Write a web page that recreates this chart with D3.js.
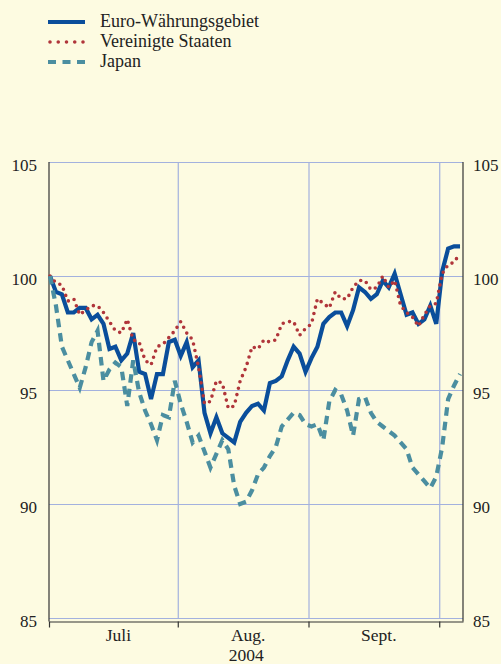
<!DOCTYPE html>
<html>
<head>
<meta charset="utf-8">
<script src="https://cdn.jsdelivr.net/npm/d3@7"></script>
<style>
	body { margin: 0; background: #fdfbe1; }
	.grid line { stroke: #a3b1de; stroke-width: 1.2; }
	.grid path { display: none; }
	.ticklab path, .ticklab line { display: none; }
	.x-axis path, .x-axis line { stroke: #333; stroke-width: 1.2; }
</style>
</head>
<body>
<div id="chart"></div>
<script>
// business days 1 Jul - 6 Oct 2004, index 0..69
var euro = [100.0, 99.3, 99.2, 98.4, 98.4, 98.6, 98.6, 98.1, 98.3, 97.9,
	96.8, 96.9, 96.3, 96.6, 97.5, 95.8, 95.7, 94.6, 95.7, 95.7,
	97.1, 97.2, 96.5, 97.1, 96.0, 96.3, 94.0, 93.1, 93.8, 93.1,
	92.9, 92.7, 93.6, 94.0, 94.3, 94.4, 94.1, 95.3, 95.4, 95.6,
	96.3, 96.9, 96.6, 95.8, 96.4, 96.9, 97.9, 98.2, 98.4, 98.4,
	97.8, 98.5, 99.5, 99.3, 99.0, 99.2, 99.8, 99.5, 100.1, 99.2,
	98.3, 98.4, 97.9, 98.1, 98.7, 97.9, 100.2, 101.2, 101.3, 101.3]
var usa = [100.0, 99.7, 99.6, 98.9, 99.0, 98.3, 98.5, 98.7, 98.7, 98.4,
	98.0, 97.6, 97.5, 98.1, 97.2, 97.1, 96.3, 96.1, 96.9, 97.0,
	97.3, 97.6, 98.0, 97.5, 97.2, 96.0, 94.4, 94.5, 95.4, 95.3,
	94.2, 94.3, 95.4, 96.0, 96.9, 96.8, 97.2, 97.1, 97.2, 97.9,
	98.0, 98.0, 97.4, 97.7, 97.9, 99.0, 98.8, 98.6, 99.3, 99.0,
	99.0, 99.5, 99.8, 99.8, 99.4, 99.5, 100.0, 99.5, 99.8, 98.7,
	98.4, 98.2, 97.8, 98.3, 98.7, 98.8, 100.1, 100.5, 100.6, 101.0]
var japan = [100.0, 98.7, 96.9, 96.3, 95.7, 95.1, 96.0, 97.1, 97.6, 95.4,
	95.9, 96.2, 96.0, 94.3, 96.3, 94.9, 94.1, 93.5, 92.8, 93.9,
	93.8, 95.4, 94.4, 93.6, 92.7, 93.0, 92.3, 91.6, 92.2, 92.8,
	92.4, 90.8, 90.0, 90.1, 90.6, 91.3, 91.6, 92.1, 92.5, 93.4,
	93.7, 94.0, 93.9, 93.5, 93.4, 93.5, 92.8, 94.5, 95.0, 94.8,
	94.1, 93.0, 94.6, 94.7, 94.0, 93.6, 93.4, 93.2, 93.0, 92.7,
	92.4, 91.6, 91.3, 91.0, 90.7, 91.2, 92.5, 94.6, 95.2, 95.7]
var yTicks = [85, 90, 95, 100, 105]
var monthBreaks = [21.5, 43.5, 65.5]
var months = ["Juli", "Aug.", "Sept."]
var yearLabel = "2004"
var seriesNames = ["Euro-Währungsgebiet", "Vereinigte Staaten", "Japan"]

var width = 501, height = 664
var plot = {left: 49, right: 463, top: 162, bottom: 618}
var serif = "'Liberation Serif', 'Times New Roman', 'DejaVu Serif', serif"
var textColor = "#222"
var styles = [
	{color: "#0a4e9b", width: 4.2, dash: null, cap: "butt", legendDash: null},
	{color: "#b0353a", width: 3.6, dash: "0,6.6", cap: "round", legendDash: "0,8.25"},
	{color: "#4b8ea0", width: 4.2, dash: "8.5,6", cap: "butt", legendDash: "8,6.5"}
]

var svg = d3.select("#chart").append("svg")
	.attr("width", width)
	.attr("height", height)
	.style("display", "block")

var x = d3.scaleLinear().domain([-0.17, 69.5]).range([plot.left, plot.right])
var y = d3.scaleLinear().domain([85, 105]).range([plot.bottom, plot.top])

// horizontal grid
svg.append("g")
	.attr("class", "grid")
	.attr("transform", "translate(" + plot.left + ",0)")
	.call(d3.axisRight(y).tickValues(yTicks).tickSize(plot.right - plot.left).tickFormat(""))
// vertical grid at month boundaries
svg.append("g")
	.attr("class", "grid")
	.attr("transform", "translate(0," + plot.bottom + ")")
	.call(d3.axisTop(x).tickValues(monthBreaks).tickSize(plot.bottom - plot.top).tickFormat(""))

// tick labels both sides
function styleTicks(sel) {
	sel.selectAll("text")
		.attr("dy", "0.32em")
		.style("font-family", serif)
		.style("font-size", "17px")
		.style("fill", textColor)
}
svg.append("g")
	.attr("class", "ticklab")
	.attr("transform", "translate(" + (plot.left - 12) + ",3)")
	.call(d3.axisLeft(y).tickValues(yTicks).tickSize(0).tickPadding(0))
	.call(styleTicks)
svg.append("g")
	.attr("class", "ticklab")
	.attr("transform", "translate(" + (plot.right + 10) + ",3)")
	.call(d3.axisRight(y).tickValues(yTicks).tickSize(0).tickPadding(0))
	.call(styleTicks)

// frame sides
var axisY = plot.bottom + 3.5
svg.append("line").attr("x1", plot.left).attr("x2", plot.left).attr("y1", plot.top).attr("y2", axisY)
	.attr("stroke", "#333").attr("stroke-width", 1.2)
svg.append("line").attr("x1", plot.right).attr("x2", plot.right).attr("y1", plot.top).attr("y2", axisY)
	.attr("stroke", "#333").attr("stroke-width", 1.2)

// bottom time axis
var bounds = [x.domain()[0]].concat(monthBreaks)
svg.append("g")
	.attr("class", "x-axis")
	.attr("transform", "translate(0," + axisY + ")")
	.call(d3.axisBottom(x).tickValues(bounds).tickSize(6).tickSizeOuter(0).tickFormat(""))

svg.selectAll("text.month")
	.data(months)
	.enter()
	.append("text")
	.attr("class", "month")
	.attr("x", (d, i) => (x(bounds[i]) + x(bounds[i + 1])) / 2 + 5)
	.attr("y", 641)
	.style("text-anchor", "middle")
	.style("font-family", serif)
	.style("font-size", "17.5px")
	.style("fill", textColor)
	.text((d) => d)
svg.append("text")
	.attr("x", (x(bounds[1]) + x(bounds[2])) / 2 + 3)
	.attr("y", 661)
	.style("text-anchor", "middle")
	.style("font-family", serif)
	.style("font-size", "17.5px")
	.style("fill", textColor)
	.text(yearLabel)

// series
var line = d3.line().x((d, i) => x(i)).y((d) => y(d))
var allSeries = [euro, usa, japan]
allSeries.forEach((data, k) => {
	svg.append("path")
		.datum(data)
		.attr("fill", "none")
		.attr("stroke", styles[k].color)
		.attr("stroke-width", styles[k].width)
		.attr("stroke-linecap", styles[k].cap)
		.attr("stroke-linejoin", "miter")
		.attr("stroke-dasharray", styles[k].dash)
		.attr("d", line)
})

// legend
var rows = svg.append("g")
	.selectAll("g.row")
	.data(seriesNames)
	.enter()
	.append("g")
	.attr("class", "row")
	.attr("transform", (d, i) => "translate(0," + (22 + i * 20) + ")")
rows.append("line")
	.attr("x1", (d, i) => i == 1 ? 50 : 48)
	.attr("x2", 85)
	.attr("stroke", (d, i) => styles[i].color)
	.attr("stroke-width", (d, i) => styles[i].width)
	.attr("stroke-linecap", (d, i) => styles[i].cap)
	.attr("stroke-dasharray", (d, i) => styles[i].legendDash)
rows.append("text")
	.attr("x", 100)
	.attr("y", 4.5)
	.style("font-family", serif)
	.style("font-size", "18px")
	.style("fill", textColor)
	.text((d) => d)
</script>
</body>
</html>
